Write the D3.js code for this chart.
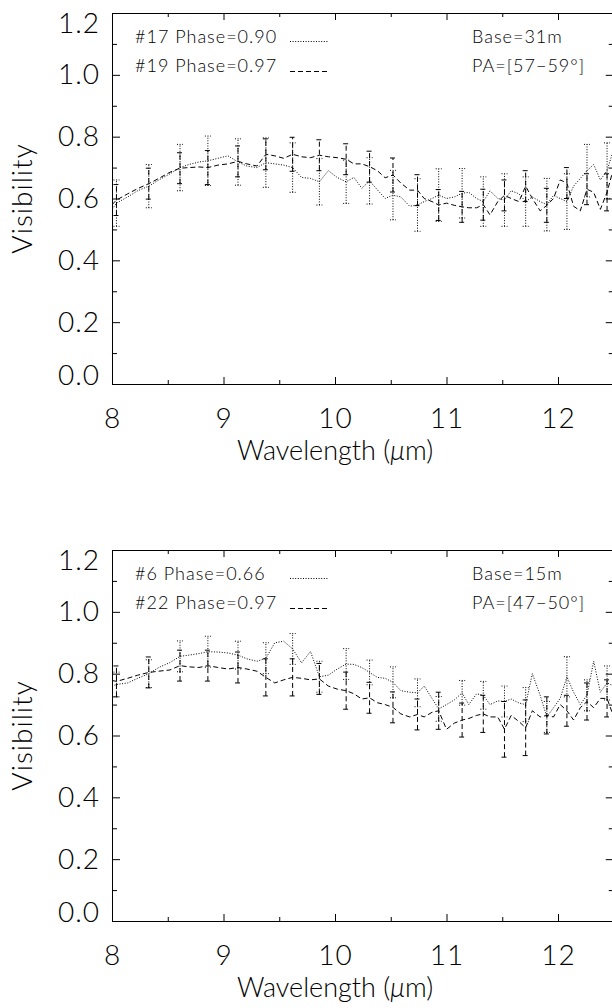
<html>
<head>
<style>
  body { margin: 0; background: #fff; }
  text { font-family: Lato, Roboto, "DejaVu Sans", sans-serif; font-weight: 300; fill: #000; }
  .axis path, .axis line { stroke: #000; stroke-width: 1; }
</style>
<script src="https://d3js.org/d3.v7.min.js"></script>
</head>
<body>
<script>
// wavelength grid (micron)
const wavelength = [8.00, 8.04, 8.14, 8.23, 8.33, 8.42, 8.52, 8.61, 8.69, 8.78, 8.86, 8.95, 9.04, 9.13, 9.21, 9.30,
  9.38, 9.46, 9.54, 9.62, 9.70, 9.78, 9.86, 9.94, 10.02, 10.10, 10.17, 10.24, 10.31, 10.38, 10.45, 10.52,
  10.59, 10.67, 10.74, 10.80, 10.87, 10.93, 11.00, 11.07, 11.14, 11.20, 11.27, 11.33, 11.39, 11.46, 11.52,
  11.58, 11.65, 11.71, 11.77, 11.84, 11.90, 11.96, 12.02, 12.08, 12.14, 12.20, 12.26, 12.32, 12.38, 12.44, 12.50];
// points that carry an error bar
const barIndex = [1, 4, 7, 10, 13, 16, 19, 22, 25, 28, 31, 34, 37, 40, 43, 46, 49, 52, 55, 58, 61];

// top panel: #17 (dotted) and #19 (dashed)
const vis17 = [0.565, 0.585, 0.605, 0.625, 0.640, 0.660, 0.680, 0.700, 0.710, 0.718, 0.722, 0.730, 0.738, 0.718, 0.705, 0.700,
  0.716, 0.712, 0.708, 0.700, 0.668, 0.665, 0.654, 0.690, 0.668, 0.654, 0.668, 0.633, 0.657, 0.628, 0.600, 0.611,
  0.605, 0.575, 0.579, 0.590, 0.600, 0.611, 0.600, 0.605, 0.617, 0.620, 0.600, 0.590, 0.625, 0.600, 0.595,
  0.625, 0.615, 0.590, 0.605, 0.590, 0.580, 0.610, 0.600, 0.590, 0.640, 0.665, 0.690, 0.710, 0.660, 0.690, 0.760];
const vis19 = [0.580, 0.595, 0.615, 0.632, 0.648, 0.665, 0.685, 0.698, 0.700, 0.702, 0.700, 0.708, 0.712, 0.720, 0.712, 0.705,
  0.743, 0.738, 0.730, 0.743, 0.735, 0.732, 0.740, 0.735, 0.732, 0.727, 0.712, 0.712, 0.703, 0.690, 0.667, 0.676,
  0.650, 0.627, 0.627, 0.600, 0.590, 0.579, 0.585, 0.578, 0.573, 0.570, 0.570, 0.580, 0.547, 0.590, 0.610,
  0.600, 0.590, 0.640, 0.600, 0.560, 0.578, 0.600, 0.660, 0.650, 0.575, 0.560, 0.630, 0.620, 0.565, 0.620, 0.700];
const err17 = [0.075, 0.07, 0.075, 0.08, 0.075, 0.08, 0.08, 0.075, 0.07, 0.075, 0.08, 0.085, 0.085, 0.08, 0.08, 0.085, 0.08, 0.085, 0.09, 0.085, 0.09];
const err19 = [0.05, 0.05, 0.05, 0.055, 0.05, 0.05, 0.055, 0.05, 0.05, 0.05, 0.055, 0.05, 0.05, 0.05, 0.05, 0.05, 0.05, 0.055, 0.05, 0.05, 0.06];

// bottom panel: #6 (dotted) and #22 (dashed)
const vis6 = [0.760, 0.765, 0.770, 0.785, 0.800, 0.820, 0.836, 0.856, 0.860, 0.865, 0.871, 0.870, 0.867, 0.860, 0.848, 0.840,
  0.850, 0.900, 0.905, 0.880, 0.835, 0.872, 0.790, 0.795, 0.815, 0.831, 0.830, 0.820, 0.804, 0.788, 0.785, 0.772,
  0.745, 0.740, 0.738, 0.760, 0.720, 0.686, 0.700, 0.715, 0.738, 0.700, 0.735, 0.730, 0.700, 0.712, 0.710,
  0.718, 0.705, 0.700, 0.800, 0.730, 0.660, 0.690, 0.720, 0.790, 0.740, 0.700, 0.730, 0.840, 0.740, 0.770, 0.760];
const vis22 = [0.778, 0.775, 0.785, 0.795, 0.804, 0.808, 0.812, 0.826, 0.822, 0.820, 0.826, 0.820, 0.815, 0.820, 0.815, 0.808,
  0.788, 0.770, 0.780, 0.788, 0.785, 0.780, 0.783, 0.760, 0.750, 0.745, 0.735, 0.718, 0.722, 0.706, 0.700, 0.691,
  0.670, 0.660, 0.668, 0.660, 0.675, 0.680, 0.620, 0.640, 0.650, 0.655, 0.665, 0.670, 0.660, 0.660, 0.620,
  0.665, 0.645, 0.625, 0.680, 0.660, 0.665, 0.660, 0.700, 0.680, 0.650, 0.690, 0.710, 0.690, 0.720, 0.720, 0.660];
const err6 = [0.04, 0.045, 0.05, 0.05, 0.045, 0.05, 0.05, 0.05, 0.05, 0.04, 0.05, 0.045, 0.04, 0.04, 0.045, 0.05, 0.055, 0.05, 0.065, 0.05, 0.055];
const err22 = [0.05, 0.05, 0.05, 0.05, 0.05, 0.06, 0.06, 0.05, 0.06, 0.05, 0.05, 0.05, 0.06, 0.055, 0.06, 0.09, 0.09, 0.06, 0.05, 0.06, 0.06];

const xMajor = [8, 9, 10, 11, 12];
const xMinor = [8.5, 9.5, 10.5, 11.5, 12.5];
const yMajor = [0, 0.2, 0.4, 0.6, 0.8, 1.0, 1.2];
const yMinor = [0.1, 0.3, 0.5, 0.7, 0.9, 1.1];

const panels = [
  { top: 13, labels: ["#17 Phase=0.90", "#19 Phase=0.97"], base: "Base=31m", pa: "PA=[57\u221259\u00b0]",
    series: [{ v: vis17, err: err17, dash: "1,1.6" }, { v: vis19, err: err19, dash: "5,3" }] },
  { top: 550, labels: ["#6 Phase=0.66", "#22 Phase=0.97"], base: "Base=15m", pa: "PA=[47\u221250\u00b0]",
    series: [{ v: vis6, err: err6, dash: "1,1.6" }, { v: vis22, err: err22, dash: "5,3" }] }
];

const w = 612, h = 1008;
const plotH = 371;
const svg = d3.select("body").append("svg").attr("width", w).attr("height", h);

panels.forEach((p, k) => {
  const x = d3.scaleLinear().domain([8, 12.5]).range([112, 613.75]);
  const y = d3.scaleLinear().domain([0, 1.2]).range([p.top + plotH, p.top]);
  const g = svg.append("g");

  g.append("clipPath").attr("id", "clip" + k)
    .append("rect").attr("x", 112).attr("y", p.top).attr("width", 502).attr("height", plotH);

  // axes, ticks pointing inward like the original
  g.append("g").attr("class", "axis").attr("transform", `translate(0,${p.top + plotH})`)
    .call(d3.axisBottom(x).tickValues(xMajor).tickSizeInner(-7).tickSizeOuter(0).tickPadding(24).tickFormat(d3.format("d")))
    .call(a => a.selectAll("text").attr("font-size", 28).attr("letter-spacing", 1));
  g.append("g").attr("class", "axis").attr("transform", `translate(0,${p.top + plotH})`)
    .call(d3.axisBottom(x).tickValues(xMinor).tickSizeInner(-4).tickSizeOuter(0).tickFormat(""))
    .call(a => a.select(".domain").remove());
  g.append("g").attr("class", "axis").attr("transform", `translate(0,${p.top})`)
    .call(d3.axisTop(x).tickValues(xMajor).tickSizeInner(-7).tickSizeOuter(0).tickFormat(""));
  g.append("g").attr("class", "axis").attr("transform", `translate(0,${p.top})`)
    .call(d3.axisTop(x).tickValues(xMinor).tickSizeInner(-4).tickSizeOuter(0).tickFormat(""))
    .call(a => a.select(".domain").remove());
  g.append("g").attr("class", "axis").attr("transform", "translate(112,0)")
    .call(d3.axisLeft(y).tickValues(yMajor).tickSizeInner(-8).tickSizeOuter(0).tickPadding(12).tickFormat(d3.format(".1f")))
    .call(a => a.selectAll("text").attr("font-size", 28).attr("letter-spacing", 1)
      // the end labels sit a little inside the frame in the original
      .attr("dy", d => d === 1.2 ? "0.68em" : d === 0 ? "0.02em" : "0.32em"));
  g.append("g").attr("class", "axis").attr("transform", "translate(112,0)")
    .call(d3.axisLeft(y).tickValues(yMinor).tickSizeInner(-5).tickSizeOuter(0).tickFormat(""))
    .call(a => a.select(".domain").remove());
  g.append("g").attr("class", "axis").attr("transform", "translate(613.75,0)")
    .call(d3.axisRight(y).tickValues(yMajor).tickSizeInner(-8).tickSizeOuter(0).tickFormat(""));
  g.append("g").attr("class", "axis").attr("transform", "translate(613.75,0)")
    .call(d3.axisRight(y).tickValues(yMinor).tickSizeInner(-5).tickSizeOuter(0).tickFormat(""))
    .call(a => a.select(".domain").remove());

  // axis titles
  g.append("text")
    .attr("transform", `translate(32,${p.top + plotH / 2}) rotate(-90)`)
    .attr("text-anchor", "middle").attr("font-size", 28).attr("letter-spacing", 1).text("Visibility");
  const xt = g.append("text").attr("x", x(10)).attr("y", p.top + plotH + 76)
    .attr("text-anchor", "middle").attr("font-size", 27);
  xt.append("tspan").text("Wavelength (");
  xt.append("tspan").attr("font-style", "italic").text("\u03bc");
  xt.append("tspan").text("m)");

  // data
  const data = g.append("g").attr("clip-path", `url(#clip${k})`);
  const line = d3.line().x((d, i) => x(wavelength[i])).y(d => y(d));
  p.series.forEach(s => {
    data.append("path").datum(s.v)
      .attr("d", line).attr("fill", "none")
      .attr("stroke", "#000").attr("stroke-width", 1).attr("stroke-dasharray", s.dash);
    const bars = data.append("g").selectAll("g").data(barIndex).enter().append("g")
      .attr("stroke", "#000").attr("stroke-width", 1).attr("stroke-dasharray", s.dash);
    bars.append("line")
      .attr("x1", i => x(wavelength[i])).attr("x2", i => x(wavelength[i]))
      .attr("y1", (i, j) => y(s.v[i] - s.err[j])).attr("y2", (i, j) => y(s.v[i] + s.err[j]));
    bars.append("line")
      .attr("x1", i => x(wavelength[i]) - 3).attr("x2", i => x(wavelength[i]) + 3)
      .attr("y1", (i, j) => y(s.v[i] + s.err[j])).attr("y2", (i, j) => y(s.v[i] + s.err[j]));
    bars.append("line")
      .attr("x1", i => x(wavelength[i]) - 3).attr("x2", i => x(wavelength[i]) + 3)
      .attr("y1", (i, j) => y(s.v[i] - s.err[j])).attr("y2", (i, j) => y(s.v[i] - s.err[j]));
  });

  // legend
  const fs = 18, ls = 1;
  g.append("text").attr("x", 135).attr("y", p.top + 30).attr("font-size", fs).attr("letter-spacing", ls).text(p.labels[0]);
  g.append("text").attr("x", 135).attr("y", p.top + 59).attr("font-size", fs).attr("letter-spacing", ls).text(p.labels[1]);
  g.append("line").attr("x1", 290).attr("x2", 328).attr("y1", p.top + 28.5).attr("y2", p.top + 28.5)
    .attr("stroke", "#000").attr("stroke-dasharray", p.series[0].dash);
  g.append("line").attr("x1", 290).attr("x2", 329).attr("y1", p.top + 58.5).attr("y2", p.top + 58.5)
    .attr("stroke", "#000").attr("stroke-dasharray", p.series[1].dash);
  g.append("text").attr("x", 472).attr("y", p.top + 30).attr("font-size", fs).attr("letter-spacing", ls).text(p.base);
  g.append("text").attr("x", 472).attr("y", p.top + 59).attr("font-size", fs).attr("letter-spacing", ls).text(p.pa);
});
</script>
</body>
</html>
